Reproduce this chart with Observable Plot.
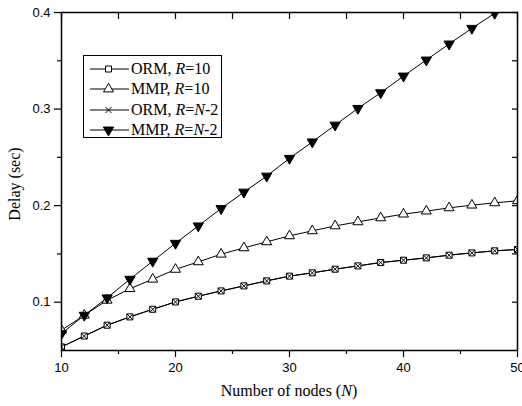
<!DOCTYPE html>
<html><head><meta charset="utf-8">
<script src="https://cdn.jsdelivr.net/npm/d3@7"></script>
<script src="https://cdn.jsdelivr.net/npm/@observablehq/plot@0.6"></script>
<style>
body{margin:0;background:#fff;}
#wrap{position:relative;width:522px;height:406px;overflow:hidden;}
#legend{position:absolute;left:83px;top:55px;width:137px;height:81px;border:1px solid #000;background:#fff;font-family:"Liberation Serif",serif;font-size:16px;color:#000;}
.row{position:absolute;left:0;height:20px;display:flex;align-items:center;white-space:nowrap;}
.row svg{flex:none;}
</style></head><body><div id="wrap"></div>
<script>
// ---- data ----
const nodes = [10,12,14,16,18,20,22,24,26,28,30,32,34,36,38,40,42,44,46,48,50];
const ormR10 = [0.0537,0.0650,0.0762,0.0848,0.0927,0.1003,0.1062,0.1117,0.1169,0.1221,0.1270,0.1304,0.1342,0.1376,0.1411,0.1435,0.1459,0.1487,0.1511,0.1532,0.1546];
const mmpR10 = [0.0710,0.0865,0.1020,0.1140,0.1238,0.1340,0.1418,0.1497,0.1563,0.1625,0.1687,0.1739,0.1790,0.1832,0.1873,0.1912,0.1943,0.1977,0.2005,0.2029,0.2050];
const ormRN2 = [0.0537,0.0650,0.0762,0.0848,0.0927,0.1003,0.1062,0.1117,0.1169,0.1221,0.1270,0.1304,0.1342,0.1376,0.1411,0.1435,0.1459,0.1487,0.1511,0.1532,0.1546];
const mmpRN2 = [0.0675,0.0865,0.1045,0.1238,0.1425,0.1610,0.1790,0.1970,0.2140,0.2306,0.2490,0.2660,0.2834,0.3007,0.3169,0.3342,0.3508,0.3674,0.3836,0.3992,0.4150];
const seriesLabels = [["ORM, ","R","=10"],["MMP, ","R","=10"],["ORM, ","R","=N-2"],["MMP, ","R","=N-2"]];
const xMajor = [10,20,30,40,50];
const xMinor = [15,25,35,45];
const yMajor = [0.1,0.2,0.3,0.4];
const yMinor = [0.15,0.25,0.35];

const triangleDown = {
  draw(ctx, size) {
    const h = Math.sqrt(size / (3 * Math.sqrt(3)));
    ctx.moveTo(0, 2 * h);
    ctx.lineTo(-Math.sqrt(3) * h, -h);
    ctx.lineTo(Math.sqrt(3) * h, -h);
    ctx.closePath();
  }
};

const styles = [
  {values: ormR10, symbol: "square", r: 3.4, fill: "white"},
  {values: mmpR10, symbol: "triangle", r: 3.7, fill: "white"},
  {values: ormRN2, symbol: "times", r: 2.8, fill: "none"},
  {values: mmpRN2, symbol: triangleDown, r: 3.8, fill: "black"}
];

const tables = styles.map(s => nodes.map((n, i) => ({n, v: s.values[i]})));

const marks = [];
tables.forEach((t) => {
  marks.push(Plot.line(t, {x: "n", y: "v", stroke: "black", strokeWidth: 1, clip: true}));
});
tables.forEach((t, k) => {
  const s = styles[k];
  marks.push(Plot.dot(t, {x: "n", y: "v", symbol: s.symbol, r: s.r, stroke: "black", strokeWidth: 1, fill: s.fill, clip: true}));
});

const plot = Plot.plot({
  width: 522,
  height: 406,
  marginLeft: 61,
  marginRight: 5,
  marginTop: 12,
  marginBottom: 56,
  style: {fontFamily: "Liberation Sans, Arial, sans-serif", fontSize: "13px", color: "black", background: "white", overflow: "visible"},
  x: {domain: [10, 50]},
  y: {domain: [0.05, 0.4]},
  marks: [
    ...marks,
    Plot.axisY({ticks: yMajor, tickSize: 7, tickPadding: 4, tickFormat: d3.format(".1f"), label: null, fontSize: 13, strokeWidth: 1.2}),
    Plot.axisY({ticks: yMinor, tickSize: 4, tickFormat: () => "", label: null, strokeWidth: 1.2}),
    Plot.axisY({anchor: "right", ticks: [...yMajor, ...yMinor], tickSize: -6, tickFormat: () => "", label: null, strokeWidth: 1.2}),
    Plot.axisX({ticks: xMajor, tickSize: 7, tickPadding: 5, label: null, fontSize: 13, strokeWidth: 1.2}),
    Plot.axisX({ticks: xMinor, tickSize: 4, tickFormat: () => "", label: null, strokeWidth: 1.2}),
    Plot.axisX({anchor: "top", ticks: [...xMajor, ...xMinor], tickSize: -6, tickFormat: () => "", label: null, strokeWidth: 1.2}),
    Plot.frame({stroke: "black", strokeWidth: 1.5})
  ]
});

const wrap = document.getElementById("wrap");
wrap.appendChild(plot);

// axis titles
const xs = plot.scale("x"), ys = plot.scale("y");
const svg = d3.select(plot);
const xt = svg.append("text")
  .attr("x", (xs.range[0] + xs.range[1]) / 2)
  .attr("y", 396)
  .attr("text-anchor", "middle")
  .style("font-family", "Liberation Serif, serif")
  .style("font-size", "16px")
  .attr("fill", "black");
xt.append("tspan").text("Number of nodes (");
xt.append("tspan").attr("font-style", "italic").text("N");
xt.append("tspan").text(")");

svg.append("text")
  .attr("transform", `translate(20,${(ys.range[0] + ys.range[1]) / 2 + 3}) rotate(-90)`)
  .attr("text-anchor", "middle")
  .style("font-family", "Liberation Serif, serif")
  .style("font-size", "16px")
  .attr("fill", "black")
  .text("Delay (sec)");

// legend
const legend = document.createElement("div");
legend.id = "legend";
wrap.appendChild(legend);
styles.forEach((s, k) => {
  const row = document.createElement("div");
  row.className = "row";
  row.style.top = (3 + k * 20.3) + "px";
  const sw = d3.create("svg").attr("width", 47).attr("height", 20);
  sw.append("line").attr("x1", 6).attr("x2", 45).attr("y1", 10).attr("y2", 10).attr("stroke", "black").attr("stroke-width", 1);
  const symType = typeof s.symbol === "string"
    ? {square: d3.symbolSquare, triangle: d3.symbolTriangle, times: d3.symbolTimes}[s.symbol]
    : s.symbol;
  sw.append("path")
    .attr("d", d3.symbol(symType, Math.PI * s.r * s.r)())
    .attr("transform", "translate(24.5,10)")
    .attr("fill", s.fill)
    .attr("stroke", "black")
    .attr("stroke-width", 1);
  row.appendChild(sw.node());
  const span = document.createElement("span");
  const [a, b, c] = seriesLabels[k];
  span.innerHTML = `${a}<i>${b}</i>${c.replace("N", "<i>N</i>")}`;
  row.appendChild(span);
  legend.appendChild(row);
});
</script>
</body></html>
